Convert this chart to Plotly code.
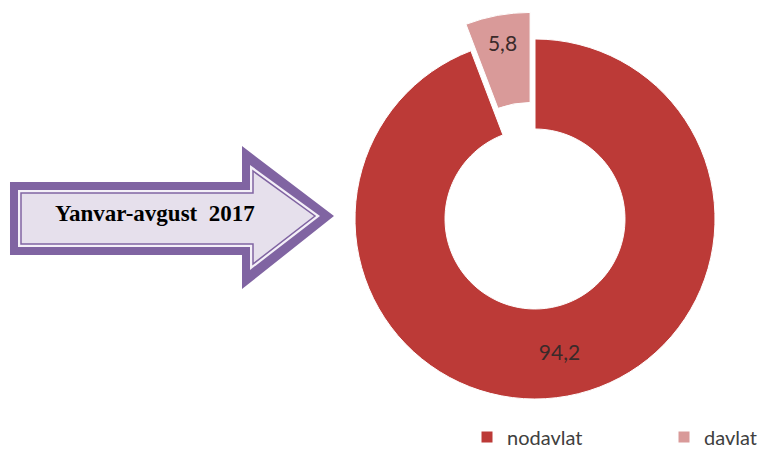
import plotly.graph_objects as go

categories = ["nodavlat", "davlat"]
values = [94.2, 5.8]
value_labels = ["94,2", "5,8"]
slice_colors = ["#BC3A37", "#D99A99"]
pulls = [0, 0.15]
arrow_text = "Yanvar-avgust&nbsp;&nbsp;2017"

# page body has an 8px default margin; figure sized to fit the 770x450 window
OFF = 8
W, H = 770 - OFF, 450 - OFF

def px(x, y):
    return (x - OFF) / W, 1 - (y - OFF) / H

def arrow_path(x0, x1, yb0, yb1, xh, yh0, yh1, ytip):
    pts = [(x0, yb0), (xh, yb0), (xh, yh0), (x1, ytip), (xh, yh1), (xh, yb1), (x0, yb1)]
    s = ""
    for i, (a, b) in enumerate(pts):
        X, Y = px(a, b)
        s += ("M" if i == 0 else "L") + f"{X:.5f},{Y:.5f} "
    return s + "Z"

cx, cy, r = 535, 219, 180
half = r * (1 + max(pulls))
dx0, dy0 = px(cx - half, cy + half)
dx1, dy1 = px(cx + half, cy - half)

fig = go.Figure()
fig.add_trace(go.Pie(
    labels=categories,
    values=values,
    text=value_labels,
    textinfo="text",
    textposition="inside",
    insidetextorientation="horizontal",
    hole=0.5,
    sort=False,
    direction="clockwise",
    rotation=0,
    pull=pulls,
    marker=dict(colors=slice_colors, line=dict(color="#FFFFFF", width=1)),
    textfont=dict(family="Lato, Open Sans, sans-serif", size=21, color="#3A2A2A"),
    domain=dict(x=[dx0, dx1], y=[dy0, dy1]),
))

shapes = []
shapes.append(dict(type="path", xref="paper", yref="paper",
                   path=arrow_path(10, 334, 182, 255, 242, 146, 289, 216),
                   fillcolor="#8064A2", line=dict(width=0)))
shapes.append(dict(type="path", xref="paper", yref="paper",
                   path=arrow_path(18, 320, 190, 247, 250, 165, 270, 216),
                   fillcolor="#F4F0F8", line=dict(width=0)))
shapes.append(dict(type="path", xref="paper", yref="paper",
                   path=arrow_path(21, 315, 193, 244, 253, 171, 264, 216),
                   fillcolor="#E6E0EC", line=dict(color="#8064A2", width=1.5)))

tx, ty = px(155, 213)
lx, ly = px(467, 437)

fig.update_layout(
    width=W, height=H,
    margin=dict(l=0, r=0, t=0, b=0, autoexpand=False),
    paper_bgcolor="white",
    plot_bgcolor="white",
    shapes=shapes,
    annotations=[dict(text="<b>" + arrow_text + "</b>", x=tx, y=ty,
                      xref="paper", yref="paper", xanchor="center", yanchor="middle",
                      showarrow=False,
                      font=dict(family="Liberation Serif, Times New Roman, serif", size=23, color="#000000"))],
    showlegend=True,
    legend=dict(orientation="h", x=lx, y=ly, xanchor="left", yanchor="middle",
                entrywidth=152, entrywidthmode="pixels",
                font=dict(family="Lato, Open Sans, sans-serif", size=20, color="#404040"),
                bgcolor="rgba(0,0,0,0)"),
)

fig.write_html("out.html")
